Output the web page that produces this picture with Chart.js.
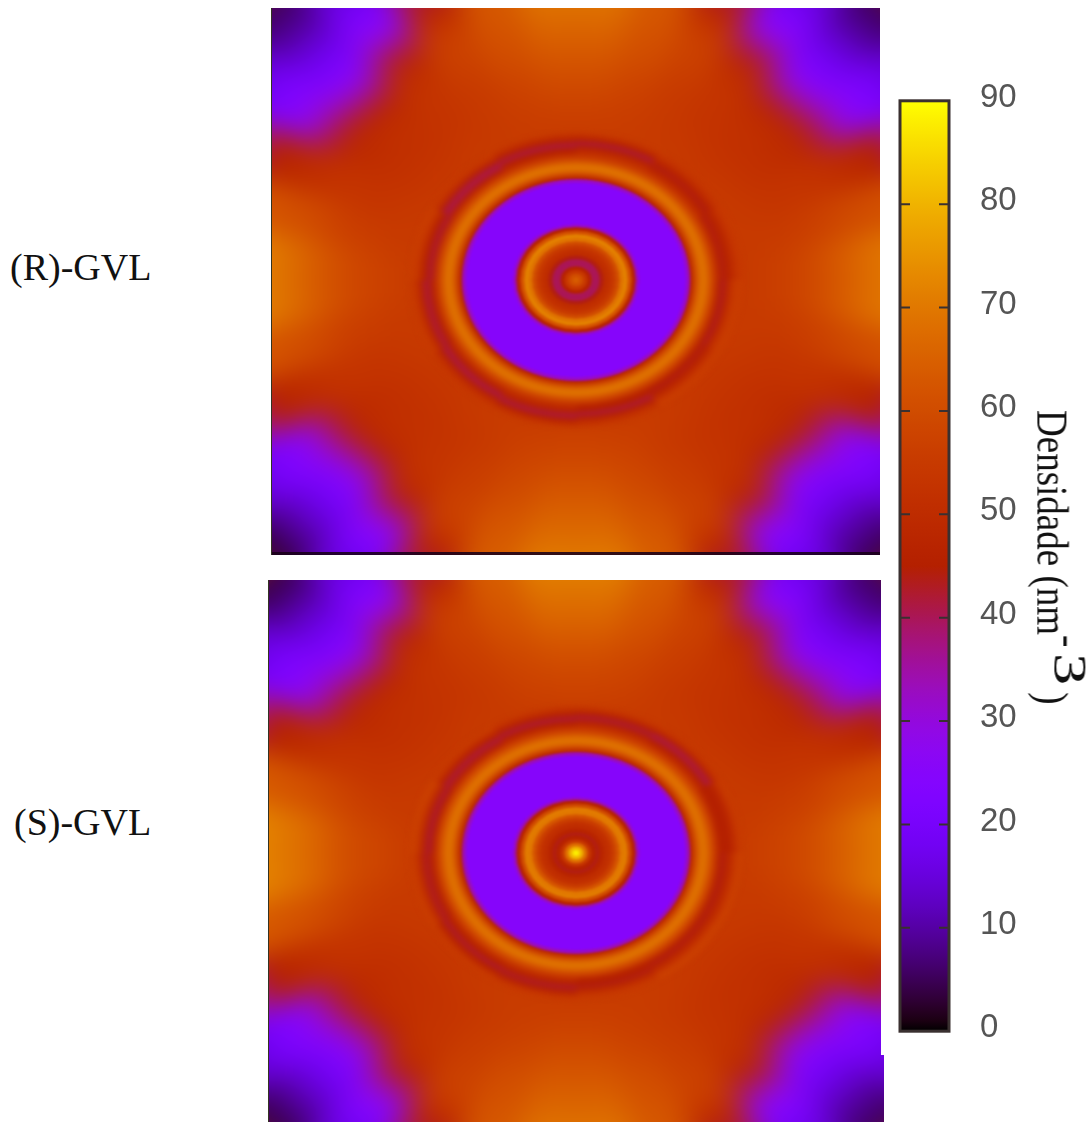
<!DOCTYPE html>
<html>
<head>
<meta charset="utf-8">
<title>Densidade GVL</title>
<script src="https://cdn.jsdelivr.net/npm/chart.js@4/dist/chart.umd.min.js"></script>
<style>
  html, body { margin: 0; padding: 0; background: #fff; }
  body { position: relative; width: 1092px; height: 1122px; overflow: hidden; }
  .panel { position: absolute; overflow: hidden; background: #c23a00; }
  .panel canvas { position: absolute; }
  .label { position: absolute; font: 38px "Liberation Serif", serif; color: #111; white-space: nowrap; line-height: 1; }
  #barTitle {
    position: absolute; left: 1038px; top: 410px; font: 37px "Liberation Serif", serif; color: #111;
    white-space: nowrap; line-height: 1; transform-origin: 0 0; transform: translate(37px, 0) rotate(90deg) scaleY(1.2);
  }
  #barTitle sup { font-size: 37px; line-height: 0; vertical-align: 14px; }
  #barTitle sup span { display: inline-block; font-size: 38px; transform-origin: 0 50%; transform: scaleX(1.7); margin: 0 20px 0 6px; }
  #topEdge { position: absolute; left: 272px; top: 552px; width: 608px; height: 3px; background: rgba(25, 0, 25, .88); }
  #leftEdgeTop { position: absolute; left: 271px; top: 8px; width: 1px; height: 547px; background: #332; }
  #leftEdgeBottom { position: absolute; left: 268px; top: 580px; width: 1px; height: 542px; background: #332; }
  #notch { position: absolute; left: 881px; top: 580px; width: 3px; height: 475px; background: #fff; }
  #barBox { position: absolute; left: 890px; top: 50px; width: 150px; height: 1032px; }
</style>
</head>
<body>
<div class="panel" id="panelTop" style="left:272px;top:8px;width:608px;height:547px"></div>
<div class="panel" id="panelBottom" style="left:268px;top:580px;width:616px;height:542px"></div>
<div id="topEdge"></div><div id="leftEdgeTop"></div><div id="leftEdgeBottom"></div><div id="notch"></div>
<div class="label" style="left:10px;top:248px">(R)-GVL</div>
<div class="label" style="left:14px;top:803px">(S)-GVL</div>
<div id="barBox"><canvas id="colorbar" width="150" height="1032"></canvas></div>
<div id="barTitle">Densidade (nm<sup>-<span>3</span></sup>)</div>
<script>
// density, nm^-3, in elliptical bands around each pore centre.
// a band with several values is split in equal sectors, clockwise from 12 o'clock.
const colorbarTicks = [0, 10, 20, 30, 40, 50, 60, 70, 80, 90];
const densityMax = 90;

const coreEdges = [0, 4, 8, 12, 16, 20, 24, 28, 32, 36, 40, 44, 48, 52, 56, 60, 63, 110, 113];
const wallEdges = [0, 113, 117, 121, 125, 129, 133, 137, 141, 145, 149, 153, 157, 161, 165];

const topCoreBands = [[64], [60], [54], [46], [40], [40], [44], [50], [52], [55], [60], [69], [72], [62], [46], [32], [25], [32]];
const topWall = [[45], [45], [58], [66], [70], [67], [60], [55]];
const topDark145 = [52, 50, 47, 45, 45, 46, 50, 48, 46, 44, 46, 49];
const topDark149 = [48, 46, 44, 43, 44, 45, 47, 44, 43, 42, 42, 45];
const topDark153 = [44, 44, 46, 47, 46, 42, 43, 41, 42, 45, 41, 42];
const topDark157 = [42, 46, 48, 52, 50, 44, 42, 44, 47, 50, 44, 43];
const topDark161 = [46, 50, 52, 55, 54, 49, 46, 49, 52, 54, 50, 47];
const topDark165 = [52, 53, 54, 56, 56, 53, 52, 53, 55, 56, 54, 52];

const bottomCoreBands = [[88], [80], [68], [54], [46], [44], [47], [50], [52], [56], [62], [70], [71], [60], [46], [33], [25], [33]];
const bottomWall = [[46], [46], [58], [66], [70], [67], [61], [56]];
const bottomDark145 = [52, 50, 47, 46, 46, 46, 50, 49, 47, 45, 47, 50];
const bottomDark149 = [47, 45, 45, 44, 44, 45, 46, 45, 44, 42, 43, 45];
const bottomDark153 = [43, 42, 45, 47, 47, 44, 43, 42, 43, 44, 42, 42];
const bottomDark157 = [43, 42, 47, 50, 51, 48, 44, 45, 48, 50, 46, 44];
const bottomDark161 = [47, 47, 51, 54, 55, 52, 48, 50, 53, 55, 51, 48];
const bottomDark165 = [53, 53, 55, 57, 57, 55, 54, 55, 56, 57, 55, 53];

const outerEdges = [0, 165, 185, 205, 225, 245, 265, 285, 305, 325, 345, 365, 385, 405, 425, 450];

const topOuter175 = [56,56,55,55,54,55,55,55,55, 55,55,55,54,54,55,56,56,57, 57,56,56,55,54,54,55,55,56, 56,55,55,54,54,55,55,56,56];
const topOuter195 = [57,56,55,54,53,53,54,55,56, 56,55,54,53,53,54,55,57,58, 58,57,55,54,53,53,54,55,57, 57,55,54,53,53,54,55,56,57];
const topOuter215 = [59,57,55,53,52,52,53,55,57, 57,55,53,52,52,53,55,58,60, 60,58,55,53,52,52,53,56,58, 58,56,53,52,52,53,55,57,59];
const topOuter235 = [61,58,55,53,52,51,53,56,59, 59,56,53,51,52,53,56,59,62, 62,59,56,53,52,51,53,56,60, 60,56,53,51,52,53,55,58,61];
const topOuter255 = [63,60,56,53,51,50,53,57,62, 62,57,53,50,51,53,56,60,64, 64,60,56,53,51,50,53,58,63, 63,58,53,50,51,53,56,60,63];
const topOuter275 = [65,61,57,52,47,48,52,59,65, 65,59,52,48,47,52,57,62,66, 66,62,57,52,47,48,52,60,66, 66,60,52,48,47,52,57,61,65];
const topOuter295 = [67,62,57,48,37,40,50,60,68, 68,60,50,40,37,48,57,63,68, 68,63,57,48,37,40,50,61,69, 69,61,50,40,37,48,57,62,67];
const topOuter315 = [69,63,54,40,27,31,48,61,70, 70,61,48,31,27,40,54,64,70, 70,64,54,40,27,31,48,62,71, 71,62,48,31,27,40,54,63,69];
const topOuter335 = [70,63,47,29,22,25,45,62,70, 70,62,45,25,22,29,47,64,72, 72,64,47,29,22,25,45,63,72, 72,63,45,25,22,29,47,63,70];
const topOuter355 = [70,63,42,24,18,22,38,60,70, 70,60,38,22,18,24,42,64,72, 72,64,42,24,18,22,38,61,72, 72,61,38,22,18,24,42,63,70];
const topOuter375 = [70,63,40,20,14,19,32,56,70, 70,56,32,19,14,20,40,64,72, 72,64,40,20,14,19,32,57,72, 72,57,32,19,14,20,40,63,70];
const topOuter395 = [70,62,38,16,10,15,28,50,70, 70,50,28,15,10,16,38,63,72, 72,63,38,16,10,15,28,50,72, 72,50,28,15,10,16,38,62,70];
const topOuter415 = [70,62,38,14,7,13,28,50,70, 70,50,28,13,7,14,38,63,72, 72,63,38,14,6,13,28,50,72, 72,50,28,13,7,14,38,62,70];
const topOuter437 = [70,62,38,14,5,13,28,50,70, 70,50,28,13,4,14,38,63,72, 72,63,38,14,3,13,28,50,72, 72,50,28,13,5,14,38,62,70];

const bottomOuter175 = [57,56,55,55,54,55,55,55,56, 56,55,55,54,54,55,56,56,56, 56,56,56,55,54,54,55,55,56, 56,55,55,54,54,55,55,56,57];
const bottomOuter195 = [58,57,55,54,53,53,54,55,57, 57,55,54,53,53,54,55,56,57, 57,56,55,54,53,53,54,55,58, 58,55,54,53,53,54,55,57,58];
const bottomOuter215 = [60,58,55,53,52,52,53,56,58, 58,56,53,52,52,53,55,57,59, 59,57,55,53,52,52,53,56,59, 59,56,53,52,52,53,55,58,60];
const bottomOuter235 = [62,59,56,53,52,51,53,56,60, 60,56,53,51,52,53,56,58,61, 61,58,56,53,52,51,53,57,61, 61,57,53,51,52,53,56,59,62];
const bottomOuter255 = [65,61,56,53,51,50,53,58,63, 63,58,53,50,51,53,56,60,63, 63,60,56,53,51,50,53,59,65, 65,59,53,50,51,53,56,61,65];
const bottomOuter275 = [67,62,57,52,47,48,52,60,66, 66,60,52,48,47,52,57,61,65, 65,61,57,52,47,48,52,61,68, 68,61,52,48,47,52,57,62,67];
const bottomOuter295 = [69,63,57,48,37,40,50,61,69, 69,61,50,40,37,48,57,62,67, 67,62,57,48,37,40,50,62,70, 70,62,50,40,37,48,57,63,69];
const bottomOuter315 = [71,64,54,40,27,31,48,62,71, 71,62,48,31,27,40,54,63,69, 69,63,54,40,27,31,48,63,72, 72,63,48,31,27,40,54,64,71];
const bottomOuter335 = [72,64,47,29,22,25,45,63,71, 71,63,45,25,22,29,47,63,70, 70,63,47,29,22,25,45,64,73, 73,64,45,25,22,29,47,64,72];
const bottomOuter355 = [73,65,42,24,18,22,38,61,71, 71,61,38,22,18,24,42,63,70, 70,63,42,24,18,22,38,62,73, 73,62,38,22,18,24,42,65,73];
const bottomOuter375 = [73,65,40,20,14,19,32,57,71, 71,57,32,19,14,20,40,63,70, 70,63,40,20,14,19,32,58,73, 73,58,32,19,14,20,40,65,73];
const bottomOuter395 = [73,64,38,16,10,15,28,50,71, 71,50,28,15,10,16,38,62,70, 70,62,38,16,10,15,28,50,73, 73,50,28,15,10,16,38,64,73];
const bottomOuter415 = [73,64,38,14,7,13,28,50,71, 71,50,28,13,7,14,38,62,70, 70,62,38,14,6,13,28,50,73, 73,50,28,13,6,14,38,64,73];
const bottomOuter437 = [73,64,38,14,5,13,28,50,71, 71,50,28,13,5,14,38,62,70, 70,62,38,14,4,13,28,50,73, 73,50,28,13,4,14,38,64,73];

const topWallBands = [...topWall, topDark145, topDark149, topDark153, topDark157, topDark161, topDark165];
const bottomWallBands = [...bottomWall, bottomDark145, bottomDark149, bottomDark153, bottomDark157, bottomDark161, bottomDark165];
const topOuterBands = [[55], topOuter175, topOuter195, topOuter215, topOuter235, topOuter255, topOuter275, topOuter295, topOuter315, topOuter335, topOuter355, topOuter375, topOuter395, topOuter415, topOuter437];
const bottomOuterBands = [[55], bottomOuter175, bottomOuter195, bottomOuter215, bottomOuter235, bottomOuter255, bottomOuter275, bottomOuter295, bottomOuter315, bottomOuter335, bottomOuter355, bottomOuter375, bottomOuter395, bottomOuter415, bottomOuter437];

// gnuplot's default pm3d palette (rgbformulae 7,5,15)
function densityColor(value) {
  const x = Math.min(Math.max(value / densityMax, 0), 1);
  const r = Math.sqrt(x);
  const g = x * x * x;
  const b = Math.max(Math.sin(2 * Math.PI * x), 0);
  return `rgb(${Math.round(r * 255)},${Math.round(g * 255)},${Math.round(b * 255)})`;
}

const poreAspect = 1.13;

function drawBands(panel, centre, edges, bands, blur) {
  const radius = edges[edges.length - 1] + 1;
  const canvas = document.createElement('canvas');
  canvas.width = radius * 2;
  canvas.height = radius * 2;
  canvas.style.left = `${centre.x - radius}px`;
  canvas.style.top = `${centre.y - radius}px`;
  canvas.style.transform = `scaleY(${1 / poreAspect})`;
  canvas.style.filter = `blur(${blur}px)`;
  panel.appendChild(canvas);

  // dataset 0 is the outermost ring of a doughnut
  const datasets = bands.map((band, i) => ({
    data: band.map(() => 1),
    weight: edges[i + 1] - edges[i],
    backgroundColor: band.map(densityColor),
    borderColor: band.map(densityColor),
    borderWidth: 1
  })).reverse();

  new Chart(canvas, {
    type: 'doughnut',
    data: { datasets },
    options: {
      responsive: false,
      animation: false,
      devicePixelRatio: 1,
      cutout: 0,
      layout: { padding: 0 },
      plugins: { legend: { display: false }, tooltip: { enabled: false } }
    }
  });
}

function drawPanel(id, centre, outerBands, wallBands, coreBands) {
  const panel = document.getElementById(id);
  drawBands(panel, centre, outerEdges, outerBands, 15);
  drawBands(panel, centre, wallEdges, wallBands, 3);
  drawBands(panel, centre, coreEdges, coreBands, 1.5);
}

// colorbar ticks point inwards from both sides of the box
const colorbarFrame = {
  id: 'colorbarFrame',
  afterDraw(chart) {
    const { ctx, chartArea: a, scales } = chart;
    ctx.save();
    ctx.strokeStyle = '#3a3030';
    ctx.lineWidth = 2;
    colorbarTicks.forEach(v => {
      if (v === 0 || v === densityMax) return;
      const y = scales.y.getPixelForValue(v);
      ctx.beginPath();
      ctx.moveTo(a.left, y);
      ctx.lineTo(a.left + 10, y);
      ctx.moveTo(a.right, y);
      ctx.lineTo(a.right - 10, y);
      ctx.stroke();
    });
    ctx.lineWidth = 3;
    ctx.strokeRect(a.left, a.top, a.right - a.left, a.bottom - a.top);
    ctx.restore();
  }
};

function colorbarFill(context) {
  const area = context.chart.chartArea;
  if (!area) return '#c23a00';
  const gradient = context.chart.ctx.createLinearGradient(0, area.bottom, 0, area.top);
  for (let v = 0; v <= densityMax; v++) gradient.addColorStop(v / densityMax, densityColor(v));
  return gradient;
}

new Chart(document.getElementById('colorbar'), {
  type: 'bar',
  data: {
    labels: ['Densidade'],
    datasets: [{ data: [[0, densityMax]], backgroundColor: colorbarFill, barPercentage: 1, categoryPercentage: 1 }]
  },
  options: {
    responsive: false,
    animation: false,
    devicePixelRatio: 1,
    layout: { padding: { left: 10, top: 10, bottom: 8, right: 0 } },
    plugins: { legend: { display: false }, tooltip: { enabled: false } },
    scales: {
      x: { display: false },
      y: {
        position: 'right',
        min: 0,
        max: densityMax,
        grid: { display: false, drawTicks: false },
        border: { display: false },
        afterBuildTicks(axis) { axis.ticks = colorbarTicks.map(value => ({ value })); },
        afterFit(axis) { axis.width = 91; },
        ticks: {
          padding: 31,
          labelOffset: -3,
          color: '#555',
          font: { family: '"Liberation Sans", sans-serif', size: 33 }
        }
      }
    }
  },
  plugins: [colorbarFrame]
});

// pore centres, relative to each panel
drawPanel('panelTop', { x: 304, y: 272 }, topOuterBands, topWallBands, topCoreBands);
drawPanel('panelBottom', { x: 308, y: 273 }, bottomOuterBands, bottomWallBands, bottomCoreBands);
</script>
</body>
</html>
